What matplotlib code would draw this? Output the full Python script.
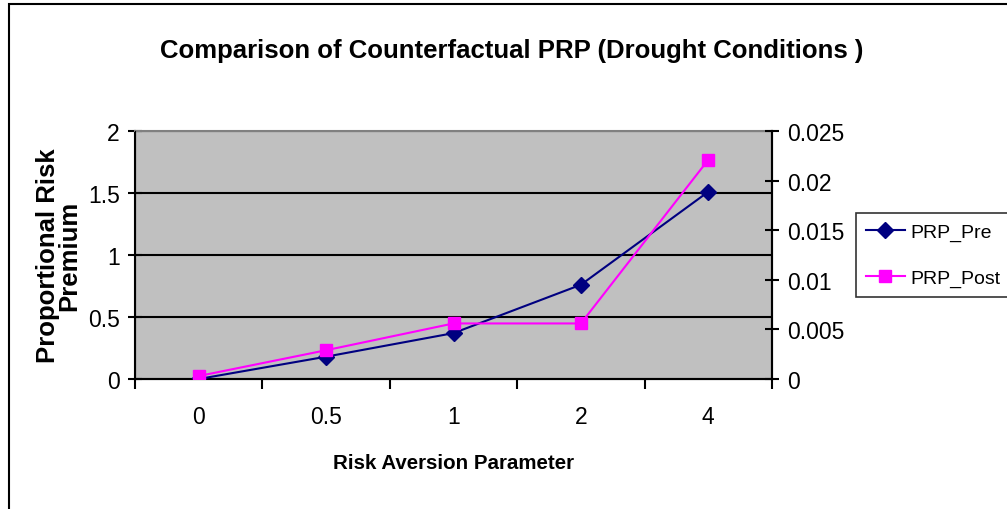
import matplotlib.pyplot as plt
from matplotlib.patches import Rectangle

# Data
categories = ["0", "0.5", "1", "2", "4"]
prp_pre = [0.0, 0.18, 0.37, 0.76, 1.51]
prp_post = [0.0003, 0.0029, 0.0056, 0.0056, 0.0221]

plt.rcParams["font.family"] = ["Liberation Sans", "DejaVu Sans"]

fig = plt.figure(figsize=(10.07, 5.10), dpi=100)
ax = fig.add_axes([135 / 1007, 1 - 380 / 510, (772 - 135) / 1007, (380 - 132) / 510])
ax.set_facecolor("#C0C0C0")

x = list(range(len(categories)))
ax.plot(x, prp_pre, color="#000080", marker="D", markersize=8.5, linewidth=1.5,
        label="PRP_Pre", zorder=3)

ax.set_xlim(-0.5, len(categories) - 0.5)
ax.set_ylim(0, 2)
ax.set_yticks([0, 0.5, 1, 1.5, 2])
ax.set_yticklabels(["0", "0.5", "1", "1.5", "2"])
ax.grid(axis="y", color="black", linewidth=1.5)
ax.set_axisbelow(True)

ax.set_xticks(x)
ax.set_xticklabels(categories)
ax.set_xticks([i - 0.5 for i in range(len(categories) + 1)], minor=True)
ax.tick_params(axis="x", which="major", length=0, labelsize=16.5, pad=19)
ax.tick_params(axis="x", which="minor", length=7, width=1.5, direction="out")
ax.tick_params(axis="y", length=10, width=1.5, direction="inout", labelsize=16.5, pad=6)

for s in ["left", "right", "bottom"]:
    ax.spines[s].set_linewidth(1.5)
    ax.spines[s].set_color("black")
ax.spines["top"].set_color("#808080")
ax.spines["top"].set_linewidth(1.5)

ax2 = ax.twinx()
ax2.plot(x, prp_post, color="#FF00FF", marker="s", markersize=8, linewidth=1.5,
         label="PRP_Post", zorder=3)
ax2.set_ylim(0, 0.025)
ax2.set_yticks([0, 0.005, 0.01, 0.015, 0.02, 0.025])
ax2.set_yticklabels(["0", "0.005", "0.01", "0.015", "0.02", "0.025"])
ax2.tick_params(axis="y", length=10, width=1.5, direction="inout", labelsize=16.5, pad=6)
ax2.spines["right"].set_linewidth(1.5)
ax2.spines["top"].set_visible(False)

ax.set_xlabel("Risk Aversion Parameter", fontsize=14.8, fontweight="bold", labelpad=18)
ax.set_ylabel("Proportional Risk\nPremium", fontsize=18.5, fontweight="bold",
              labelpad=5, linespacing=0.85)

fig.text(512 / 1007, 1 - 51 / 510, "Comparison of Counterfactual PRP (Drought Conditions )",
         ha="center", va="center", fontsize=18.5, fontweight="bold")

h1, l1 = ax.get_legend_handles_labels()
h2, l2 = ax2.get_legend_handles_labels()
leg = fig.legend(h1 + h2, l1 + l2, loc="upper left",
                 bbox_to_anchor=(856 / 1007, 1 - 214 / 510), fontsize=14,
                 frameon=True, fancybox=False, borderaxespad=0, handlelength=2.0,
                 handletextpad=0.3, borderpad=0.5, labelspacing=1.5)
leg.get_frame().set_edgecolor("black")
leg.get_frame().set_linewidth(1.2)

# outer chart border
fig.patches.append(Rectangle((9 / 1007, -0.1), 1.2, 1 - 5 / 510 + 0.1, fill=False,
                             edgecolor="black", linewidth=1.5, transform=fig.transFigure))

fig.savefig("out.png", dpi=100)
